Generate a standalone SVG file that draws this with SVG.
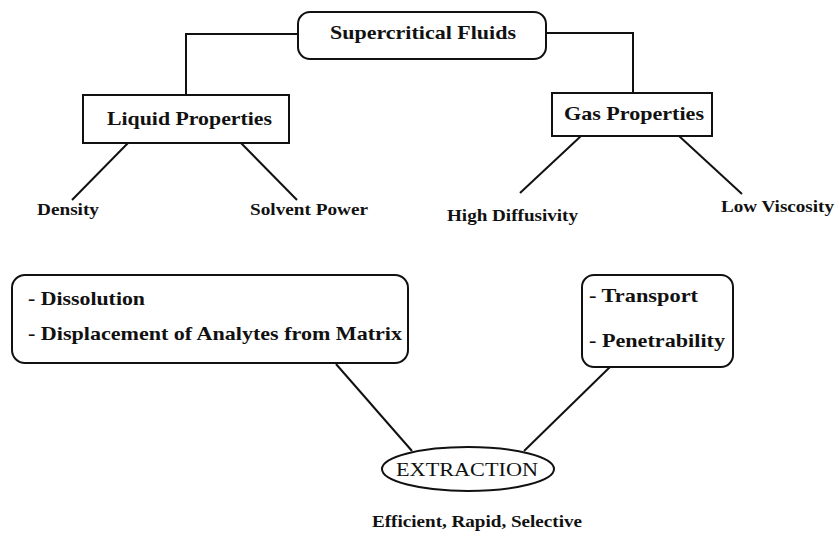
<svg xmlns="http://www.w3.org/2000/svg" width="835" height="550" viewBox="0 0 835 550">
<style>
.box{fill:#fff;stroke:#111;stroke-width:2}
.ln{fill:none;stroke:#111;stroke-width:2}
.h{font-family:"Liberation Serif",serif;font-weight:bold;font-size:19px;fill:#111}
.s{font-family:"Liberation Serif",serif;font-weight:bold;font-size:16px;fill:#111}
.e{font-family:"Liberation Serif",serif;font-size:19px;fill:#111}
</style>
<rect width="835" height="550" fill="#fff"/>
<g id="connectors">
<polyline class="ln" points="298,34 186,34 186,95"/>
<polyline class="ln" points="546,33 633,33 633,93"/>
<line class="ln" x1="128" y1="143" x2="72" y2="200"/>
<line class="ln" x1="241" y1="143" x2="297" y2="200"/>
<line class="ln" x1="581" y1="136" x2="520" y2="193"/>
<line class="ln" x1="679" y1="136" x2="742" y2="194"/>
<line class="ln" x1="336" y1="364" x2="412" y2="451"/>
<line class="ln" x1="610" y1="367" x2="524" y2="451"/>
</g>
<g id="supercritical">
<rect class="box" x="298" y="12" width="248" height="47" rx="12"/>
<text class="h" x="330" y="39" textLength="186" lengthAdjust="spacingAndGlyphs">Supercritical Fluids</text>
</g>
<g id="liquid">
<rect class="box" x="83" y="95" width="206" height="48"/>
<text class="h" x="107" y="125" textLength="165" lengthAdjust="spacingAndGlyphs">Liquid Properties</text>
</g>
<g id="gas">
<rect class="box" x="552" y="93" width="160" height="43"/>
<text class="h" x="564" y="120" textLength="140" lengthAdjust="spacingAndGlyphs">Gas Properties</text>
</g>
<g id="density"><text class="s" x="37" y="215" textLength="62" lengthAdjust="spacingAndGlyphs">Density</text></g>
<g id="solvent"><text class="s" x="250" y="215" textLength="118" lengthAdjust="spacingAndGlyphs">Solvent Power</text></g>
<g id="diffusivity"><text class="s" x="447" y="221" textLength="131" lengthAdjust="spacingAndGlyphs">High Diffusivity</text></g>
<g id="viscosity"><text class="s" x="721" y="212" textLength="113" lengthAdjust="spacingAndGlyphs">Low Viscosity</text></g>
<g id="liquid-effects">
<rect class="box" x="12" y="275" width="396" height="88" rx="13"/>
<text class="h" x="28" y="305" textLength="117" lengthAdjust="spacingAndGlyphs">- Dissolution</text>
<text class="h" x="28" y="340" textLength="374" lengthAdjust="spacingAndGlyphs">- Displacement of Analytes from Matrix</text>
</g>
<g id="gas-effects">
<rect class="box" x="582" y="275" width="151" height="92" rx="12"/>
<text class="h" x="589" y="302" textLength="109" lengthAdjust="spacingAndGlyphs">- Transport</text>
<text class="h" x="589" y="347" textLength="136" lengthAdjust="spacingAndGlyphs">- Penetrability</text>
</g>
<g id="extraction">
<ellipse class="box" cx="468" cy="469" rx="86" ry="22"/>
<text class="e" x="396" y="476" textLength="142" lengthAdjust="spacingAndGlyphs">EXTRACTION</text>
</g>
<g id="result"><text class="s" x="372" y="527" textLength="210" lengthAdjust="spacingAndGlyphs">Efficient, Rapid, Selective</text></g>
</svg>
